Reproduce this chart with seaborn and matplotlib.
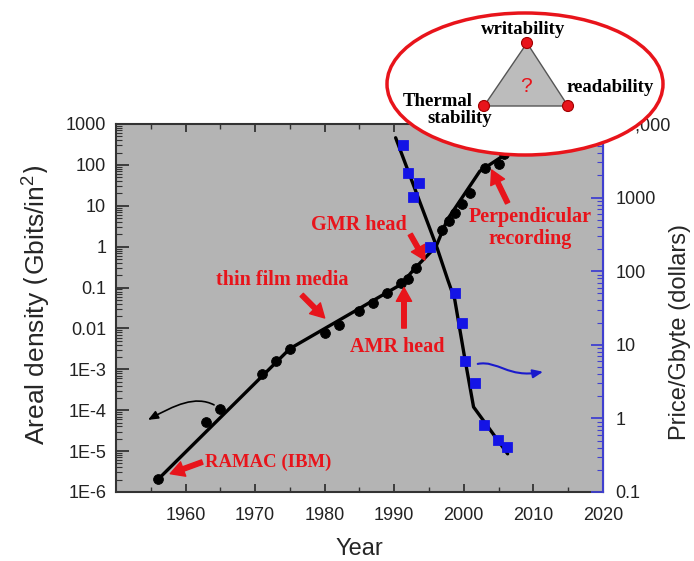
import matplotlib
matplotlib.use("Agg")
import matplotlib.pyplot as plt
import seaborn as sns
from matplotlib.patches import Ellipse, Polygon, Circle, FancyArrowPatch
from matplotlib.path import Path

# areal density measurements (Gbits/in^2)
density_years = [1956, 1963, 1965, 1971, 1973, 1975, 1980, 1982, 1985, 1987, 1989,
                 1991, 1992, 1993.1, 1996.9, 1997.8, 1998.8, 1999.8, 2000.9, 2003,
                 2005, 2005.8]
density_vals = [2.1e-6, 5.1e-5, 1.07e-4, 7.8e-4, 1.6e-3, 3.2e-3, 7.8e-3, 0.012, 0.026,
                0.042, 0.074, 0.13, 0.16, 0.30, 2.6, 4.2, 6.5, 11, 20, 85, 105, 180]

# trend line through density
density_fit_years = [1956, 1975, 1991, 1993, 1996, 1997.6, 2002.3, 2005.5, 2008]
density_fit_vals = [2.0e-6, 3.2e-3, 0.12, 0.3, 1.0, 4.5, 70, 160, 500]

# price per Gbyte (dollars)
price_years = [1991.2, 1992.0, 1992.7, 1993.6, 1995.1, 1998.7, 1999.7, 2000.1,
               2001.6, 2002.9, 2004.9, 2006.2]
price_vals = [5200, 2150, 1020, 1580, 210, 50, 20, 6, 3, 0.81, 0.51, 0.41]

price_fit_years = [1990.2, 1996.1, 1997.7, 1998.7, 2000, 2001.4, 2006.3]
price_fit_vals = [6500, 215, 76, 41, 7.8, 1.43, 0.33]

year_ticks = [1960, 1970, 1980, 1990, 2000, 2010, 2020]
left_ticks = [1e-6, 1e-5, 1e-4, 1e-3, 0.01, 0.1, 1, 10, 100, 1000]
left_labels = ["1E-6", "1E-5", "1E-4", "1E-3", "0.01", "0.1", "1", "10", "100", "1000"]
right_ticks = [0.1, 1, 10, 100, 1000, 10000]
right_labels = ["0.1", "1", "10", "100", "1000", "10,000"]

RED = "#e8141b"
BLUE = "#1414e6"
serif = ["Liberation Serif", "DejaVu Serif"]

sns.set_style("ticks")
plt.rcParams['font.family'] = ['Liberation Sans', 'DejaVu Sans']

fig = plt.figure(figsize=(6.94, 5.61), dpi=100)
ax = fig.add_axes([0.1671, 0.123, 0.7017, 0.656])
ax.set_facecolor("#b4b4b4")
ax.set_yscale("log")
ax.set_xlim(1950, 2020)
ax.set_ylim(1e-6, 1000)

sns.lineplot(x=density_fit_years, y=density_fit_vals, ax=ax, color="black",
             lw=2.4, sort=False, estimator=None, zorder=2)
sns.scatterplot(x=density_years, y=density_vals, ax=ax, color="black", s=50,
                edgecolor="black", zorder=3)

ax.set_xticks(year_ticks)
ax.set_xticks(range(1955, 2020, 10), minor=True)
ax.set_yticks(left_ticks, labels=left_labels)
ax.tick_params(axis="both", which="both", direction="in", colors="#333333",
               labelcolor="#222222", labelsize=13)
ax.tick_params(axis="y", which="major", length=9, width=1.3, pad=7)
ax.tick_params(axis="y", which="minor", length=4.5, width=0.8)
ax.tick_params(axis="x", which="major", length=6, width=1.3, pad=11, top=True)
ax.tick_params(axis="x", which="minor", length=3.5, width=1.0, top=True)
for s in ["left", "bottom", "top"]:
    ax.spines[s].set_color("#333333")
    ax.spines[s].set_linewidth(1.5)

ax.set_xlabel("Year", fontsize=17)
ax.xaxis.set_label_coords(0.499, -0.124)
ax.set_ylabel(r"Areal density $\left(\mathregular{Gbits/in^{2}}\right)$", fontsize=19)
ax.yaxis.set_label_coords(-0.13, 0.51)

# price on the right axis
ax2 = ax.twinx()
ax2.set_yscale("log")
ax2.set_ylim(0.1, 10000)
sns.lineplot(x=price_fit_years, y=price_fit_vals, ax=ax2, color="black",
             lw=2.4, sort=False, estimator=None, zorder=2)
sns.scatterplot(x=price_years, y=price_vals, ax=ax2, color=BLUE, marker="s",
                s=50, edgecolor=BLUE, zorder=3)
ax2.set_yticks(right_ticks, labels=right_labels)
ax2.tick_params(axis="y", which="both", direction="in", colors="#4040d0",
                labelcolor="#222222", labelsize=13)
ax2.tick_params(axis="y", which="major", length=9, width=1.3, pad=9)
ax2.tick_params(axis="y", which="minor", length=4.5, width=0.8)
ax2.spines["right"].set_color("#4040d0")
ax2.spines["right"].set_linewidth(1.5)
for s in ["left", "bottom", "top"]:
    ax2.spines[s].set_visible(False)
ax2.set_ylabel("Price/Gbyte (dollars)", fontsize=17)
ax2.yaxis.set_label_coords(1.136, 0.435)
ax2.set_xlim(1950, 2020)

# red annotations
arrow = dict(arrowstyle="simple,head_width=1.0,head_length=0.9,tail_width=0.3",
             color=RED, mutation_scale=11, shrinkA=0, shrinkB=0)
tstyle = dict(color=RED, family=serif, weight="bold", fontsize=14.5,
              ha="center", va="center")
ax.annotate("", xy=(1957.8, 2.8e-6), xytext=(1962.4, 5.4e-6), arrowprops=arrow)
ax.text(1962.8, 5.4e-6, "RAMAC (IBM)", **{**tstyle, "ha": "left", "fontsize": 13.5})
ax.annotate("", xy=(1980.0, 0.018), xytext=(1976.7, 0.066), arrowprops=arrow)
ax.text(1973.9, 0.153, "thin film media", **tstyle)
ax.annotate("", xy=(1994.4, 0.47), xytext=(1992.3, 2.0), arrowprops=arrow)
ax.text(1984.9, 3.4, "GMR head", **tstyle)
ax.annotate("", xy=(1991.4, 0.10), xytext=(1991.4, 0.0102), arrowprops=arrow)
ax.text(1990.5, 3.5e-3, "AMR head", **tstyle)
ax.annotate("", xy=(2004.0, 75), xytext=(2006.3, 11.7), arrowprops=arrow)
ax.text(2009.5, 2.87, "Perpendicular\nrecording", linespacing=1.1, **tstyle)

# curved pointers to each axis
black_curve = Path([(1964.1, 1.35e-4), (1961.4, 2.3e-4), (1958.5, 1.35e-4), (1954.6, 5.8e-5)],
                   [Path.MOVETO, Path.CURVE4, Path.CURVE4, Path.CURVE4])
ax.add_patch(FancyArrowPatch(path=black_curve, arrowstyle="-|>,head_width=0.25,head_length=0.6",
                             color="black", lw=1.2, mutation_scale=10))
blue_curve = Path([(2002.0, 5.5), (2004.9, 6.2), (2006.3, 3.5), (2011.4, 4.3)],
                  [Path.MOVETO, Path.CURVE4, Path.CURVE4, Path.CURVE4])
ax2.add_patch(FancyArrowPatch(path=blue_curve, arrowstyle="-|>,head_width=0.25,head_length=0.6",
                              color="#1a1acc", lw=1.5, mutation_scale=10))

# inset diagram, drawn in pixel space over everything
ov = fig.add_axes([0, 0, 1, 1], zorder=10)
ov.set_xlim(0, 694)
ov.set_ylim(561, 0)
ov.axis("off")
ov.add_patch(Ellipse((525, 84), 276, 142, facecolor="white", edgecolor=RED, lw=2.5))
tri = [(527, 43), (484, 106), (568, 106)]
ov.add_patch(Polygon(tri, closed=True, facecolor="#bcbcbc", edgecolor="#555555", lw=1))
for v in tri:
    ov.add_patch(Circle(v, 5.5, facecolor=RED, edgecolor="#a00000", lw=0.8))
ov.text(526, 86, "?", color=RED, fontsize=15, ha="center", va="center")
dstyle = dict(color="black", family=serif, weight="bold", fontsize=13.5, va="center")
ov.text(523, 29, "writability", ha="center", **dstyle)
ov.text(566, 87, "readability", ha="left", **dstyle)
ov.text(438, 101, "Thermal", ha="center", **dstyle)
ov.text(460, 118, "stability", ha="center", **dstyle)

fig.savefig("out.png", dpi=100)
